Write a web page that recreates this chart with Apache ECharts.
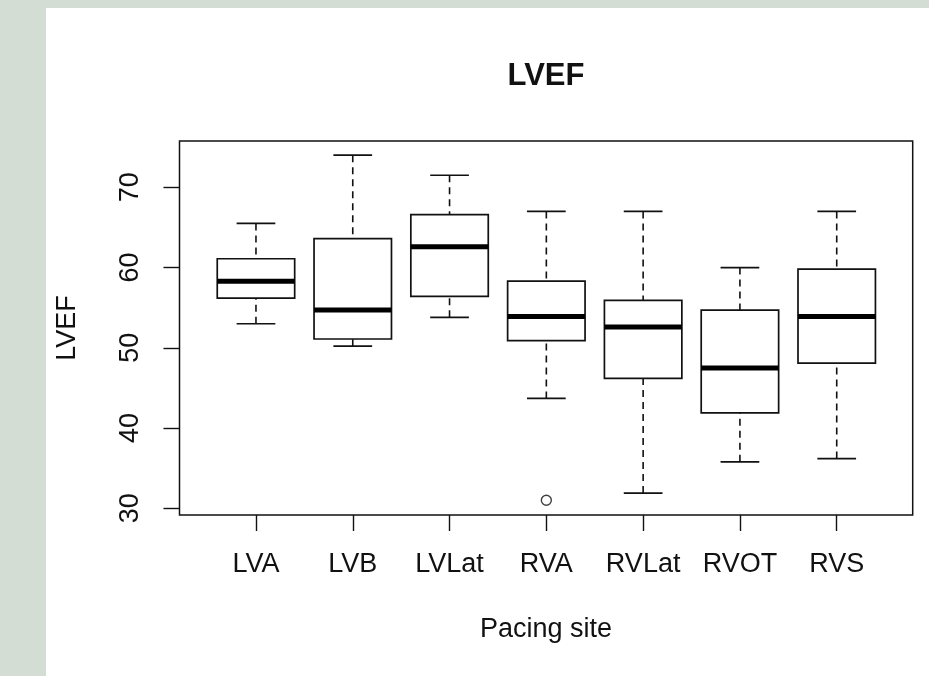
<!DOCTYPE html>
<html>
<head>
<meta charset="utf-8">
<script src="https://cdn.jsdelivr.net/npm/echarts@6/dist/echarts.min.js"></script>
<style>
html,body{margin:0;padding:0;background:#d3ddd4;}
#chart{width:929px;height:676px;}
</style>
</head>
<body>
<div id="chart"></div>
<script>
// ---- data ----
const categories = ['LVA', 'LVB', 'LVLat', 'RVA', 'RVLat', 'RVOT', 'RVS'];
const whiskerLow  = [53.0, 50.2, 53.8, 43.7, 31.9, 35.8, 36.2];
const q1          = [56.2, 51.1, 56.4, 50.9, 46.2, 41.9, 48.1];
const median      = [58.3, 54.7, 62.6, 53.9, 52.6, 47.5, 53.9];
const q3          = [61.1, 63.6, 66.6, 58.3, 55.9, 54.7, 59.8];
const whiskerHigh = [65.5, 74.0, 71.5, 67.0, 67.0, 60.0, 67.0];
const outlierCats = ['RVA'];
const outlierVals = [31.0];
const yTicks = [30, 40, 50, 60, 70];
const titleText = 'LVEF';
const xName = 'Pacing site';
const yName = 'LVEF';

// ---- build ----
const boxData = categories.map((c, i) => [i + 1, whiskerLow[i], q1[i], median[i], q3[i], whiskerHigh[i]]);
const outData = outlierCats.map((c, i) => [categories.indexOf(c) + 1, outlierVals[i]]);
const xPositions = categories.map((c, i) => i + 1);

const FONT = '"Liberation Sans", Arial, sans-serif';
const INK = '#111';

const chart = echarts.init(document.getElementById('chart'));
chart.setOption({
  backgroundColor: '#d3ddd4',
  animation: false,
  graphic: {
    elements: [{
      type: 'rect', z: -100, silent: true,
      shape: { x: 46, y: 8, width: 883, height: 668 },
      style: { fill: '#ffffff' }
    }]
  },
  title: {
    text: titleText,
    left: 546, top: 61, padding: 0, textAlign: 'center',
    textStyle: { fontFamily: FONT, fontSize: 31, fontWeight: 'bold', color: INK, lineHeight: 31 }
  },
  grid: {
    left: 179.5, top: 141, right: 16.3, bottom: 161,
    show: true, borderColor: INK, borderWidth: 1.5, backgroundColor: 'transparent',
    outerBoundsMode: 'none', containLabel: false
  },
  xAxis: {
    type: 'value', min: 0.21, max: 7.785,
    name: xName, nameLocation: 'middle', nameGap: 101,
    nameTextStyle: { fontFamily: FONT, fontSize: 27, color: INK, lineHeight: 27 },
    axisLine: { show: false },
    splitLine: { show: false },
    axisTick: { show: true, length: 16, inside: false, customValues: xPositions, lineStyle: { color: INK, width: 1.4 } },
    axisLabel: {
      customValues: xPositions, margin: 36,
      fontFamily: FONT, fontSize: 27, color: INK, lineHeight: 27,
      formatter: v => categories[Math.round(v) - 1] || ''
    }
  },
  yAxis: {
    type: 'value', min: 29.17, max: 75.77,
    name: yName, nameLocation: 'middle', nameGap: 98,
    nameTextStyle: { fontFamily: FONT, fontSize: 27, color: INK, lineHeight: 27 },
    axisLine: { show: false },
    splitLine: { show: false },
    axisTick: { show: true, length: 16, inside: false, customValues: yTicks, lineStyle: { color: INK, width: 1.4 } },
    axisLabel: {
      customValues: yTicks, rotate: 90, margin: 35.5,
      fontFamily: FONT, fontSize: 27, color: INK, lineHeight: 27
    }
  },
  series: [
    {
      type: 'custom',
      data: boxData,
      encode: { x: 0, y: [1, 2, 3, 4, 5] },
      renderItem: function (params, api) {
        const x = api.value(0);
        const lo = api.coord([x, api.value(1)]);
        const b1 = api.coord([x, api.value(2)]);
        const me = api.coord([x, api.value(3)]);
        const b3 = api.coord([x, api.value(4)]);
        const hi = api.coord([x, api.value(5)]);
        const bw = api.size([0.8, 0])[0];
        const half = bw / 2, capHalf = bw / 4;
        const cx = lo[0];
        const dash = { stroke: INK, lineWidth: 1.6, lineDash: [7, 5] };
        const solid = { stroke: INK, lineWidth: 1.7 };
        return {
          type: 'group',
          children: [
            { type: 'line', shape: { x1: cx, y1: hi[1], x2: cx, y2: b3[1] }, style: dash },
            { type: 'line', shape: { x1: cx, y1: lo[1], x2: cx, y2: b1[1] }, style: dash },
            { type: 'line', shape: { x1: cx - capHalf, y1: hi[1], x2: cx + capHalf, y2: hi[1] }, style: solid },
            { type: 'line', shape: { x1: cx - capHalf, y1: lo[1], x2: cx + capHalf, y2: lo[1] }, style: solid },
            { type: 'rect', shape: { x: cx - half, y: b3[1], width: bw, height: b1[1] - b3[1] },
              style: { fill: '#fff', stroke: INK, lineWidth: 1.7 } },
            { type: 'line', shape: { x1: cx - half, y1: me[1], x2: cx + half, y2: me[1] },
              style: { stroke: '#000', lineWidth: 5 } }
          ]
        };
      }
    },
    {
      type: 'scatter',
      data: outData,
      symbol: 'circle', symbolSize: 10,
      itemStyle: { color: '#fff', borderColor: INK, borderWidth: 1.4 }
    }
  ]
});
</script>
</body>
</html>
